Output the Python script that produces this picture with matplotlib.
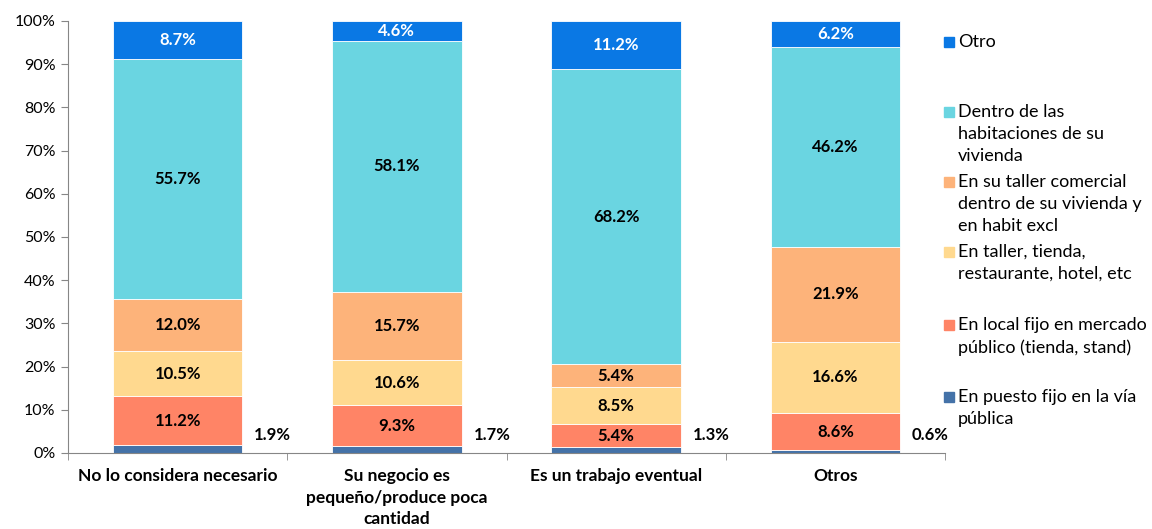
import matplotlib.pyplot as plt
import numpy as np

plt.rcParams['font.family'] = ['Lato', 'DejaVu Sans']

categorias = ['No lo considera necesario',
              'Su negocio es\npequeño/produce poca\ncantidad',
              'Es un trabajo eventual',
              'Otros']

series = ['En puesto fijo en la vía\npública',
          'En local fijo en mercado\npúblico (tienda, stand)',
          'En taller, tienda,\nrestaurante, hotel, etc',
          'En su taller comercial\ndentro de su vivienda y\nen habit excl',
          'Dentro de las\nhabitaciones de su\nvivienda',
          'Otro']

via_publica = [1.9, 1.7, 1.3, 0.6]
local_fijo = [11.2, 9.3, 5.4, 8.6]
taller_tienda = [10.5, 10.6, 8.5, 16.6]
taller_comercial = [12.0, 15.7, 5.4, 21.9]
habitaciones = [55.7, 58.1, 68.2, 46.2]
otro = [8.7, 4.6, 11.2, 6.2]

valores = [via_publica, local_fijo, taller_tienda, taller_comercial, habitaciones, otro]
colores = ['#4472a8', '#ff8466', '#ffd98f', '#fdb37a', '#6ad5e1', '#0a78e4']

fig = plt.figure(figsize=(11.52, 5.29), dpi=100)
ax = fig.add_axes([68/1152, 1 - 453/529, (945 - 68)/1152, (453 - 21)/529])

x = np.arange(len(categorias))
ancho = 0.59
base = np.zeros(len(categorias))
for k, (vals, col) in enumerate(zip(valores, colores)):
    vals = np.array(vals)
    ax.bar(x, vals, ancho, bottom=base, color=col, edgecolor='white', linewidth=0.6)
    for i, v in enumerate(vals):
        if k == 0:
            # etiqueta al costado de la barra
            ax.annotate(f'{v:.1f}%', (x[i] + ancho / 2, 0), xytext=(12, 18),
                        textcoords='offset pixels', ha='left', va='center',
                        fontsize=12, fontweight='bold', color='black')
        else:
            color_txt = 'white' if k == 5 else 'black'
            ax.text(x[i], base[i] + v / 2, f'{v:.1f}%', ha='center', va='center',
                    fontsize=12, fontweight='bold', color=color_txt)
    base = base + vals

ax.set_xlim(-0.5, 3.5)
ax.set_ylim(0, 100)
ax.set_yticks(np.arange(0, 101, 10))
ax.set_yticklabels([f'{t}%' for t in range(0, 101, 10)], fontsize=11.5)
ax.set_xticks(x)
ax.set_xticklabels(categorias, fontsize=12.5, fontweight='bold', linespacing=1.42)
ax.tick_params(axis='x', length=0, pad=11)
ax.set_xticks(np.arange(-0.5, 4, 1), minor=True)
ax.tick_params(axis='x', which='minor', length=5, color='#868686')
ax.tick_params(axis='y', length=5, color='#868686', pad=4)

for lado in ['top', 'right']:
    ax.spines[lado].set_visible(False)
for lado in ['left', 'bottom']:
    ax.spines[lado].set_color('#868686')

# leyenda manual estilo Excel
pos_y = [42, 112, 182, 252, 325, 397]
for j, k in enumerate(range(5, -1, -1)):
    yy = 1 - pos_y[j] / 529
    fig.patches.append(plt.Rectangle((944/1152, yy - 5/529), 10/1152, 10/529,
                                     transform=fig.transFigure, color=colores[k]))
    fig.text(958/1152, yy + 8/529, series[k], ha='left', va='top', fontsize=13,
             linespacing=1.45)

fig.savefig('out.png', dpi=100)
